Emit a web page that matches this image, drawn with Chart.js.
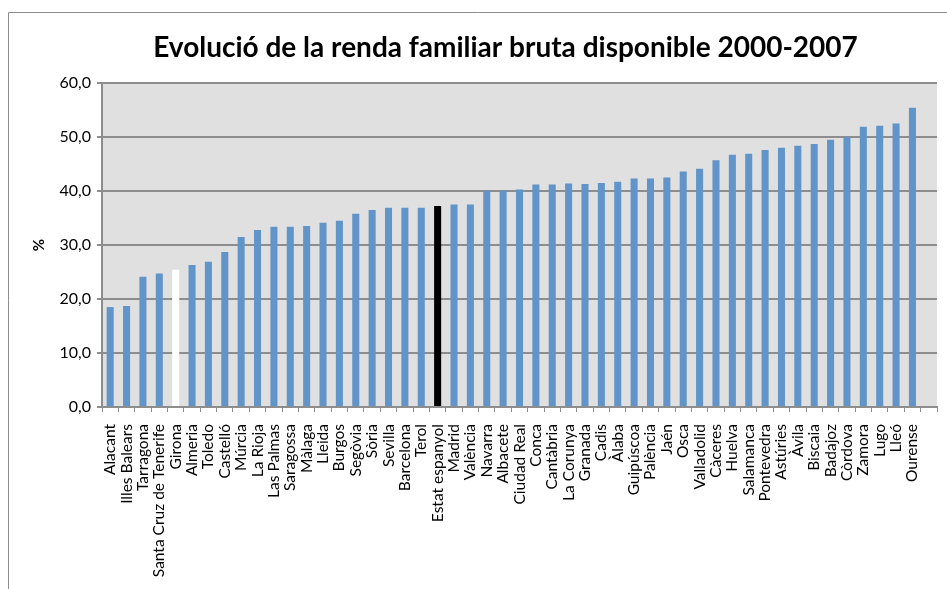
<!DOCTYPE html>
<html>
<head>
<meta charset="utf-8">
<script src="https://cdn.jsdelivr.net/npm/chart.js@4"></script>
<style>
html,body{margin:0;padding:0;background:#fff;}
#wrap{width:947px;height:589px;position:relative;}
</style>
</head>
<body>
<div id="wrap"><canvas id="c" width="947" height="589"></canvas></div>
<script>
const categories = ["Alacant","Illes Balears","Tarragona","Santa Cruz de Tenerife","Girona","Almeria","Toledo","Castelló","Múrcia","La Rioja","Las Palmas","Saragossa","Màlaga","Lleida","Burgos","Segòvia","Sòria","Sevilla","Barcelona","Terol","Estat espanyol","Madrid","València","Navarra","Albacete","Ciudad Real","Conca","Cantàbria","La Corunya","Granada","Cadis","Àlaba","Guipúscoa","Palència","Jaén","Osca","Valladolid","Càceres","Huelva","Salamanca","Pontevedra","Astúries","Àvila","Biscaia","Badajoz","Còrdova","Zamora","Lugo","Lleó","Ourense",""];
const values = [18.5,18.7,24.1,24.7,25.4,26.3,26.9,28.7,31.5,32.8,33.4,33.4,33.5,34.1,34.5,35.8,36.5,36.9,36.9,36.9,37.2,37.5,37.5,40.1,40.1,40.3,41.2,41.2,41.4,41.3,41.5,41.7,42.3,42.3,42.5,43.6,44.1,45.7,46.7,46.9,47.6,48.0,48.4,48.7,49.5,50.0,51.9,52.1,52.5,55.4,null];
const yTicks = [0,10,20,30,40,50,60];
const titleText = "Evolució de la renda familiar bruta disponible 2000-2007";
const yTitle = "%";

const barColors = categories.map(c => c === "Girona" ? "#ffffff" : (c === "Estat espanyol" ? "#000000" : "#6194c9"));

const FONT = "Lato, 'Open Sans', sans-serif";

const bgPlugin = {
  id: 'bg',
  beforeDraw(chart) {
    const {ctx, chartArea: a} = chart;
    ctx.save();
    ctx.fillStyle = '#ffffff';
    ctx.fillRect(0, 0, chart.width, chart.height);
    ctx.fillStyle = '#e0e0e0';
    ctx.fillRect(a.left, a.top, a.right - a.left, a.bottom - a.top);
    ctx.strokeStyle = '#8d8d8d';
    ctx.lineWidth = 1;
    ctx.beginPath();
    ctx.moveTo(8.5, chart.height);
    ctx.lineTo(8.5, 12.5);
    ctx.lineTo(chart.width, 12.5);
    ctx.stroke();
    ctx.fillStyle = '#000';
    ctx.font = "bold 28px " + FONT;
    ctx.textAlign = 'center';
    ctx.textBaseline = 'middle';
    ctx.fillText(titleText, 505.5, 48);
    ctx.restore();
  }
};

new Chart(document.getElementById('c'), {
  type: 'bar',
  data: {
    labels: categories,
    datasets: [{
      data: values,
      backgroundColor: barColors,
      borderWidth: 0,
      barPercentage: 0.86,
      categoryPercentage: 0.5
    }]
  },
  options: {
    responsive: false,
    animation: false,
    layout: { padding: { left: 30, right: 10, top: 83, bottom: 0 } },
    plugins: {
      legend: { display: false },
      tooltip: { enabled: false },
      title: { display: false }
    },
    scales: {
      x: {
        offset: true,
        grid: { display: true, drawOnChartArea: false, drawTicks: true, tickLength: 5, color: '#8d8d8d', offset: true },
        border: { display: true, color: '#8d8d8d', width: 2 },
        ticks: {
          autoSkip: false, maxRotation: 90, minRotation: 90,
          color: '#000', padding: 12,
          font: { family: FONT, size: 15.5 }
        },
        afterFit(scale) { scale.height = 182; scale.paddingLeft = 0; scale.paddingRight = 0; }
      },
      y: {
        min: 0, max: 60,
        afterBuildTicks(scale) { scale.ticks = yTicks.map(v => ({ value: v })); },
        grid: { color: '#8d8d8d', lineWidth: 2, tickLength: 5 },
        border: { display: true, color: '#8d8d8d', width: 2 },
        ticks: {
          color: '#000', padding: 6,
          font: { family: FONT, size: 16 },
          callback: v => v.toFixed(1).replace('.', ',')
        },
        title: {
          display: true, text: yTitle, color: '#000',
          font: { family: FONT, size: 15, weight: 'bold' },
          padding: { top: 0, bottom: 0 }
        },
        afterFit(scale) { scale.width = 72; scale.paddingTop = 0; scale.paddingBottom = 0; }
      }
    }
  },
  plugins: [bgPlugin]
});
</script>
</body>
</html>
